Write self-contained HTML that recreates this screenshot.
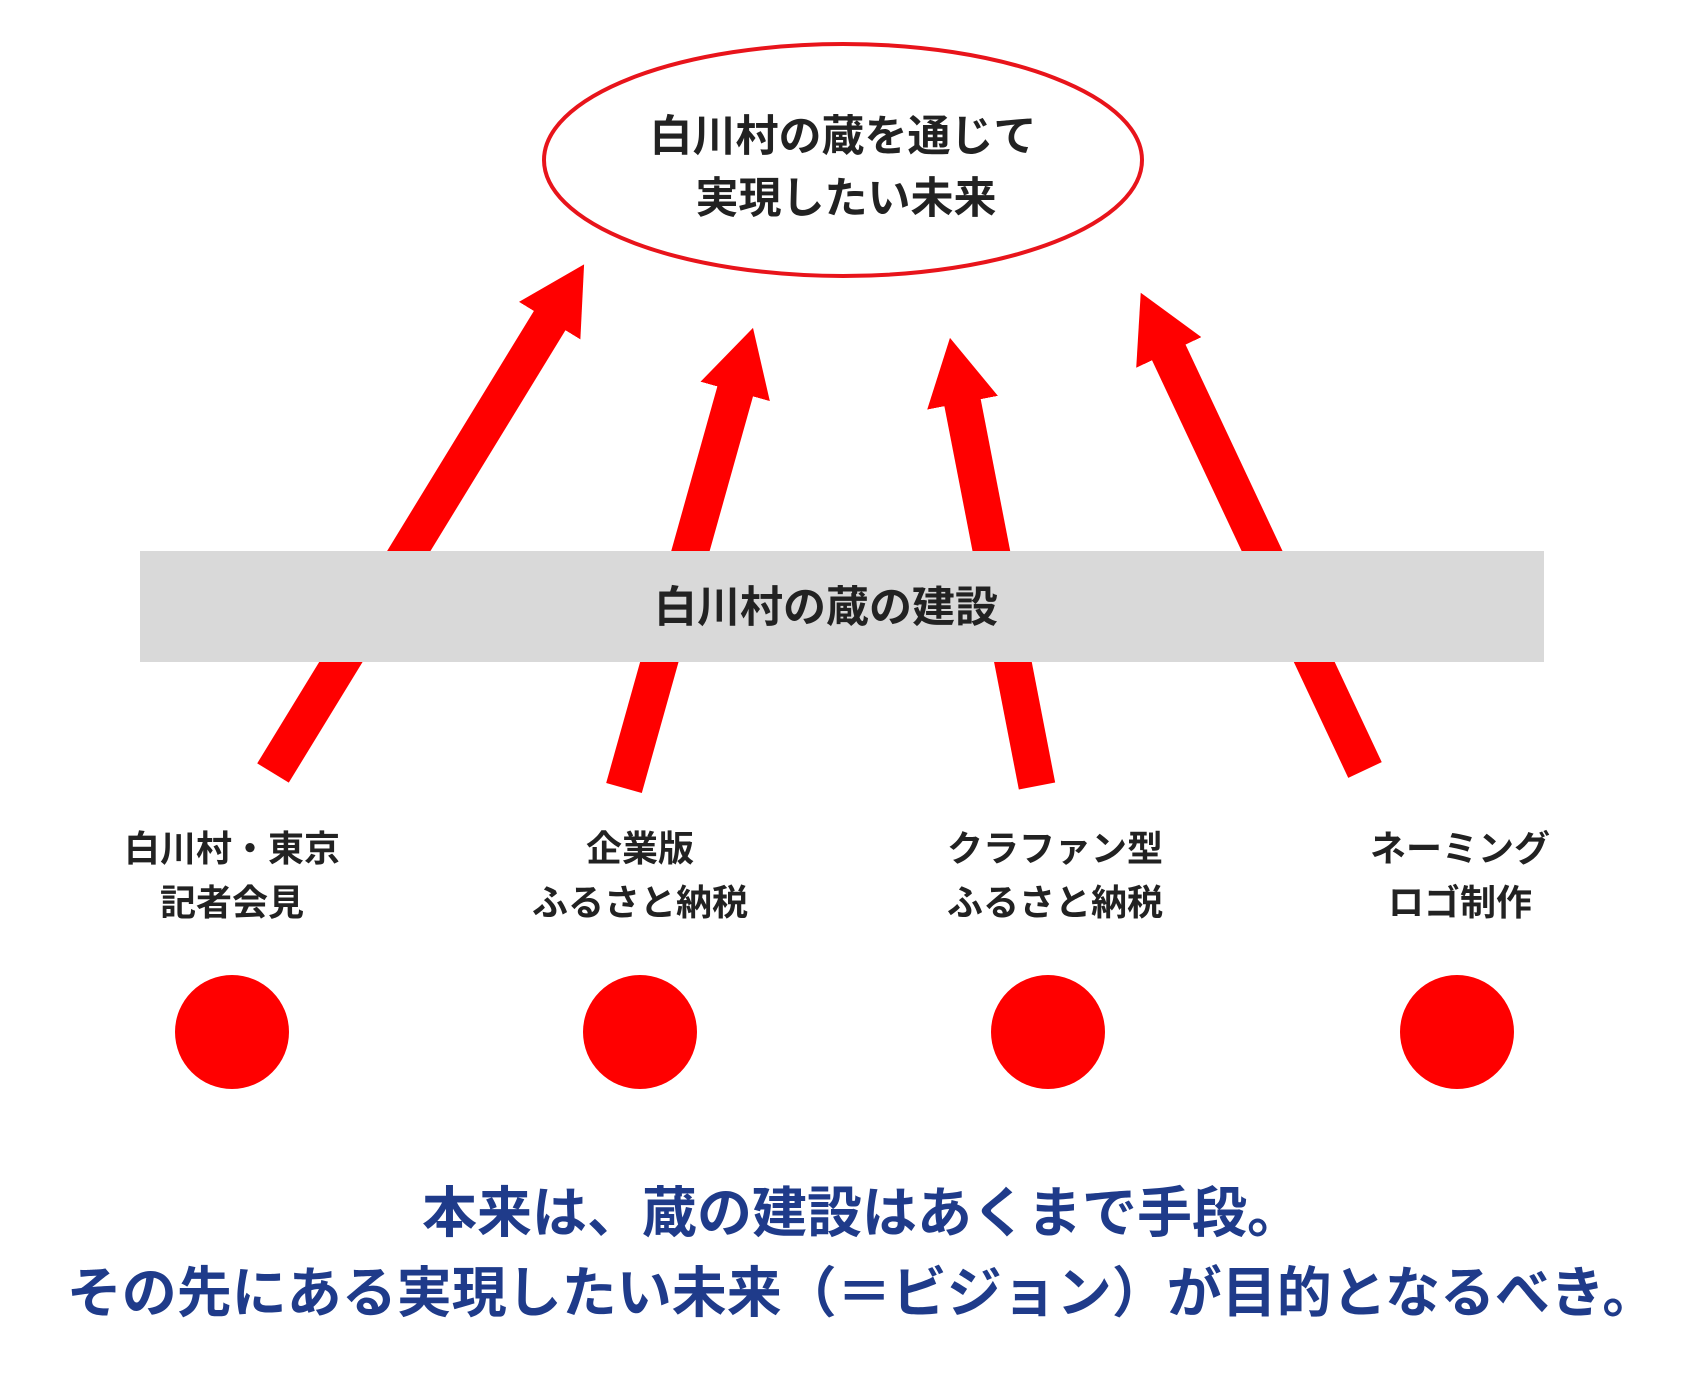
<!DOCTYPE html>
<html><head><meta charset="utf-8"><style>
html,body{margin:0;padding:0;background:#fff;}
body{width:1704px;height:1380px;position:relative;overflow:hidden;font-family:"Liberation Sans","Noto Sans CJK JP",sans-serif;}
.t{position:absolute;font-weight:bold;color:#222;text-align:center;white-space:nowrap;transform:translate(-50%,-50%);}
</style></head><body>
<svg width="1704" height="1380" style="position:absolute;left:0;top:0">
<defs><marker id="h" markerUnits="userSpaceOnUse" markerWidth="70" markerHeight="72" refX="16" refY="36" orient="auto"><path d="M0,0 L66,36 L0,72 z" fill="#ff0000"/></marker></defs>
<g stroke="#ff0000" stroke-width="37" fill="none">
<line x1="273" y1="773" x2="558" y2="307" marker-end="url(#h)"/>
<line x1="624" y1="788" x2="739.5" y2="376" marker-end="url(#h)"/>
<line x1="1037" y1="786" x2="959.5" y2="387" marker-end="url(#h)"/>
<line x1="1365" y1="770" x2="1162" y2="338" marker-end="url(#h)"/>
</g>
<rect x="140" y="551" width="1404" height="111" fill="#d9d9d9"/>
<ellipse cx="843" cy="160" rx="299" ry="116" fill="#fff" stroke="#e8141b" stroke-width="4"/>
<g fill="#ff0000">
<circle cx="232" cy="1032" r="57"/><circle cx="640" cy="1032" r="57"/>
<circle cx="1048" cy="1032" r="57"/><circle cx="1457" cy="1032" r="57"/>
</g>
</svg>
<div class="t" style="left:843px;top:133px;font-size:43px">白川村の蔵を通じて</div>
<div class="t" style="left:846px;top:195px;font-size:43px">実現したい未来</div>
<div class="t" style="left:826px;top:604px;font-size:43px">白川村の蔵の建設</div>
<div class="t" style="left:232px;top:876px;font-size:36px;line-height:54px">白川村・東京<br>記者会見</div>
<div class="t" style="left:640px;top:876px;font-size:36px;line-height:54px">企業版<br>ふるさと納税</div>
<div class="t" style="left:1055px;top:876px;font-size:36px;line-height:54px">クラファン型<br>ふるさと納税</div>
<div class="t" style="left:1460px;top:876px;font-size:36px;line-height:54px">ネーミング<br>ロゴ制作</div>
<div class="t" style="left:862px;top:1208px;font-size:55px;color:#1f3b8a">本来は、蔵の建設はあくまで手段。</div>
<div class="t" style="left:862px;top:1288px;font-size:55px;color:#1f3b8a">その先にある実現したい未来（＝ビジョン）が目的となるべき。</div>
</body></html>
